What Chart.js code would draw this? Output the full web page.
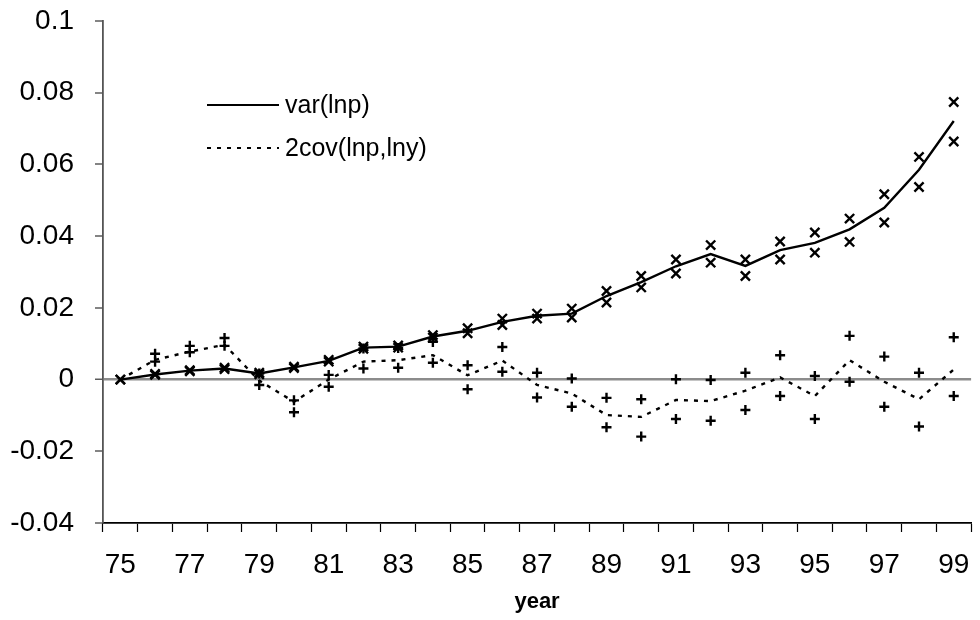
<!DOCTYPE html>
<html>
<head>
<meta charset="utf-8">
<script src="https://cdn.jsdelivr.net/npm/chart.js@4.4.1/dist/chart.umd.min.js"></script>
<style>
  html, body { margin: 0; padding: 0; background: #fff; }
  #wrap { width: 980px; height: 620px; }
</style>
</head>
<body>
<div id="wrap"><canvas id="c" width="980" height="620"></canvas></div>
<script>
// Years (two-digit) on the category axis
const years = ['75','76','77','78','79','80','81','82','83','84','85','86','87',
               '88','89','90','91','92','93','94','95','96','97','98','99'];

// var(lnp): estimate and its band
const varLnp   = [0, 0.0014, 0.0025, 0.0031, 0.0017, 0.0034, 0.0052, 0.0089, 0.0092, 0.0120, 0.0136, 0.0161, 0.0178,
                  0.0184, 0.0233, 0.0272, 0.0316, 0.0350, 0.0317, 0.0361, 0.0381, 0.0419, 0.0479, 0.0585, 0.0721];
const varUpper = [0, 0.0016, 0.0026, 0.0033, 0.0019, 0.0036, 0.0055, 0.0092, 0.0095, 0.0124, 0.0143, 0.0170, 0.0184,
                  0.0198, 0.0247, 0.0289, 0.0335, 0.0375, 0.0335, 0.0385, 0.0410, 0.0449, 0.0517, 0.0621, 0.0774];
const varLower = [0, 0.0013, 0.0023, 0.0029, 0.0015, 0.0032, 0.0050, 0.0086, 0.0089, 0.0117, 0.0129, 0.0152, 0.0170,
                  0.0173, 0.0215, 0.0257, 0.0296, 0.0326, 0.0289, 0.0335, 0.0354, 0.0384, 0.0438, 0.0537, 0.0664];

// 2cov(lnp,lny): estimate and its band
const covLine  = [0, 0.0055, 0.0078, 0.0097, -0.0003, -0.0062, 0.0000, 0.0050, 0.0054, 0.0068, 0.0012, 0.0053, -0.0015,
                  -0.0039, -0.0099, -0.0104, -0.0057, -0.0060, -0.0031, 0.0006, -0.0046, 0.0054, -0.0006, -0.0055, 0.0028];
const covUpper = [null, 0.0072, 0.0094, 0.0116, 0.0017, -0.0058, 0.0013, 0.0087, 0.0088, 0.0105, 0.0040, 0.0091, 0.0019,
                  0.0003, -0.0051, -0.0055, 0.0001, -0.0001, 0.0019, 0.0068, 0.0010, 0.0122, 0.0064, 0.0019, 0.0118];
const covLower = [null, 0.0050, 0.0076, 0.0094, -0.0015, -0.0091, -0.0020, 0.0031, 0.0033, 0.0047, -0.0027, 0.0022, -0.0050,
                  -0.0076, -0.0133, -0.0159, -0.0110, -0.0115, -0.0085, -0.0046, -0.0110, -0.0006, -0.0076, -0.0131, -0.0046];

// Axis range
const yMin = -0.04, yMax = 0.1, yStep = 0.02;
const xTitle = 'year';

const FONT = '"Liberation Sans", Arial, Helvetica, sans-serif';
const COVDASH = [4, 6];

// Legend drawn inside the plot, upper left
const insetLegend = {
  id: 'insetLegend',
  afterDatasetsDraw(chart) {
    const ctx = chart.ctx;
    const items = chart.data.datasets.filter(d => d.inLegend);
    ctx.save();
    ctx.font = '25px ' + FONT;
    ctx.textBaseline = 'middle';
    ctx.textAlign = 'left';
    items.forEach((d, i) => {
      const y = 105 + i * 43;
      ctx.strokeStyle = '#000';
      ctx.lineWidth = 2;
      ctx.setLineDash(d.borderDash || []);
      ctx.beginPath();
      ctx.moveTo(207, y);
      ctx.lineTo(279, y);
      ctx.stroke();
      ctx.setLineDash([]);
      ctx.fillStyle = '#000';
      ctx.fillText(d.label, 285, y + 1);
    });
    ctx.restore();
  }
};

const markerSet = (label, data, style, radius) => ({
  label, data,
  showLine: false,
  pointStyle: style,
  pointRadius: radius,
  pointBorderWidth: 2.4,
  pointBorderColor: '#000',
  pointBackgroundColor: '#000',
  borderColor: '#000',
  inLegend: false
});

// Keep tick-label overflow from shrinking the plot area
const noOverflow = (scale) => {
  scale.paddingTop = 0; scale.paddingBottom = 0;
  scale.paddingLeft = 0; scale.paddingRight = 0;
};

new Chart(document.getElementById('c'), {
  type: 'line',
  data: {
    labels: years,
    datasets: [
      { label: 'var(lnp)', data: varLnp, borderColor: '#000', borderWidth: 2.4,
        pointRadius: 0, tension: 0, inLegend: true },
      { label: '2cov(lnp,lny)', data: covLine, borderColor: '#000', borderWidth: 2.4,
        borderDash: COVDASH, pointRadius: 0, tension: 0, inLegend: true },
      markerSet('var upper', varUpper, 'crossRot', 6.5),
      markerSet('var lower', varLower, 'crossRot', 6.5),
      markerSet('cov upper', covUpper, 'cross', 5),
      markerSet('cov lower', covLower, 'cross', 5)
    ]
  },
  options: {
    responsive: false,
    animation: false,
    layout: { padding: { left: 0, right: 4, top: 21, bottom: 0 } },
    plugins: {
      legend: { display: false },
      tooltip: { enabled: false }
    },
    scales: {
      x: {
        type: 'category',
        offset: true,
        afterFit(scale) { scale.height = 97; noOverflow(scale); },
        grid: {
          offset: true,
          drawOnChartArea: false,
          drawTicks: true,
          tickLength: 9,
          tickColor: '#000',
          tickWidth: 1.2
        },
        border: { color: '#000', width: 1.8 },
        ticks: {
          autoSkip: false,
          maxRotation: 0,
          minRotation: 0,
          padding: 16,
          color: '#000',
          font: { family: FONT, size: 28 },
          callback(value, index) { return index % 2 === 0 ? this.getLabelForValue(value) : ''; }
        },
        title: {
          display: true,
          text: xTitle,
          color: '#000',
          font: { family: FONT, size: 22, weight: 'bold' },
          padding: { top: 0, bottom: 5 }
        }
      },
      y: {
        min: yMin,
        max: yMax,
        afterFit(scale) { scale.width = 103; noOverflow(scale); },
        grid: {
          drawTicks: true,
          tickLength: 8,
          tickColor: '#333',
          tickWidth: 1.2,
          color: (ctx) => (ctx.tick && Math.abs(ctx.tick.value) < 1e-9) ? '#8c8c8c' : 'rgba(0,0,0,0)',
          lineWidth: (ctx) => (ctx.tick && Math.abs(ctx.tick.value) < 1e-9) ? 2.4 : 0
        },
        border: { color: '#555', width: 1.8 },
        ticks: {
          stepSize: yStep,
          padding: 21,
          color: '#000',
          font: { family: FONT, size: 28 },
          callback(v) { return String(Number(v.toFixed(2))); }
        }
      }
    }
  },
  plugins: [insetLegend]
});
</script>
</body>
</html>
